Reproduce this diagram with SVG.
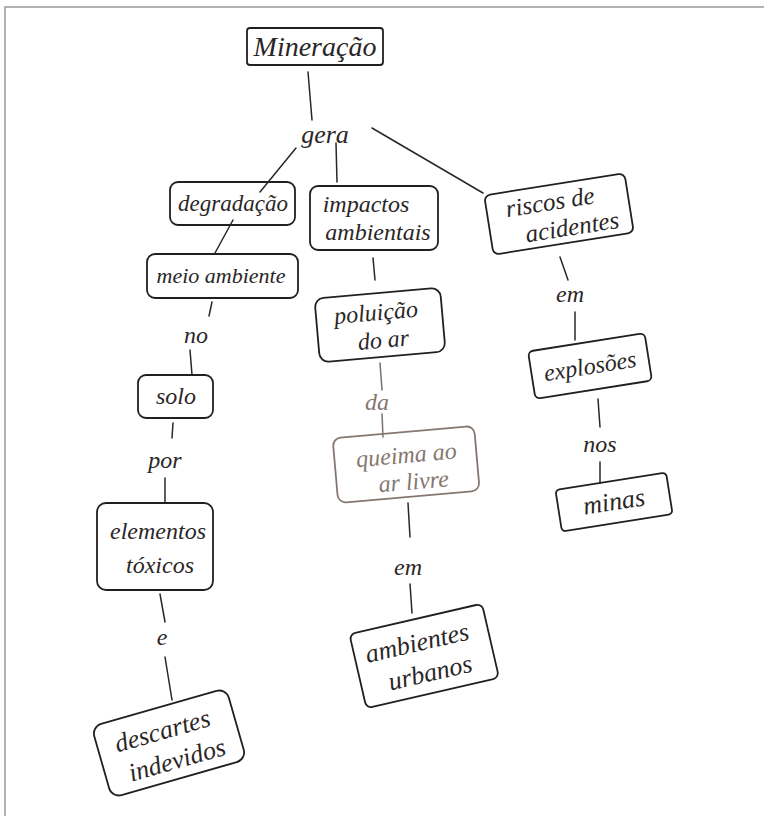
<svg xmlns="http://www.w3.org/2000/svg" width="764" height="816" viewBox="0 0 764 816">
<style>
.box{fill:none;stroke:#241f1f;stroke-width:1.8;stroke-linejoin:round}
.t{font-family:"Liberation Serif","DejaVu Serif",serif;font-style:italic;font-size:24px;fill:#2b2626;text-anchor:middle}
.lt{fill:#857670}
.lbox{stroke:#857670}
.c line{stroke:#2b2626;stroke-width:1.5;stroke-linecap:round}
.c line.l{stroke:#7d706b}
</style>
<rect width="764" height="816" fill="#ffffff"/>
<path d="M5 816 V7 H764" fill="none" stroke="#9a9a9a" stroke-width="1.5"/>
<g class="c" id="connectors">
<line x1="308" y1="72" x2="312" y2="120"/>
<line x1="296" y1="148" x2="260" y2="192"/>
<line x1="336" y1="143" x2="337" y2="182"/>
<line x1="372" y1="128" x2="483" y2="193"/>
<line x1="233" y1="220" x2="215" y2="253"/>
<line x1="373" y1="258" x2="375" y2="280"/>
<line x1="212" y1="302" x2="209" y2="316"/>
<line x1="190" y1="350" x2="192" y2="375"/>
<line x1="173" y1="423" x2="172" y2="438"/>
<line x1="165" y1="478" x2="165" y2="503"/>
<line x1="160" y1="594" x2="165" y2="622"/>
<line x1="165" y1="657" x2="172" y2="700"/>
<line class="l" x1="380" y1="363" x2="382" y2="390"/>
<line class="l" x1="382" y1="414" x2="383" y2="437"/>
<line x1="408" y1="503" x2="410" y2="537"/>
<line x1="410" y1="584" x2="412" y2="613"/>
<line x1="560" y1="257" x2="568" y2="280"/>
<line x1="575" y1="312" x2="575" y2="340"/>
<line x1="598" y1="399" x2="600" y2="427"/>
<line x1="600" y1="462" x2="600" y2="483"/>
</g>
<g id="mineracao">
<rect class="box" x="247" y="28" width="136" height="37" rx="3"/>
<text class="t" x="315" y="56" style="font-size:28px">Mineração</text>
</g>
<g id="gera"><text class="t" x="325" y="143" style="font-size:26px">gera</text></g>
<g id="degradacao">
<rect class="box" x="170" y="182" width="125" height="43" rx="8"/>
<text class="t" x="233" y="211" style="font-size:23px">degradação</text>
</g>
<g id="impactos">
<rect class="box" x="310" y="186" width="128" height="64" rx="8"/>
<text class="t" x="366" y="212">impactos</text>
<text class="t" x="378" y="240">ambientais</text>
</g>
<g id="riscos" transform="rotate(-9 559 214)">
<rect class="box" x="488" y="184" width="142" height="60" rx="6"/>
<text class="t" x="552" y="209" style="font-size:25px">riscos de</text>
<text class="t" x="570" y="237" style="font-size:25px">acidentes</text>
</g>
<g id="meio-ambiente">
<rect class="box" x="147" y="254" width="151" height="44" rx="8"/>
<text class="t" x="221" y="283" style="font-size:22px">meio ambiente</text>
</g>
<g id="no"><text class="t" x="196" y="343">no</text></g>
<g id="solo">
<rect class="box" x="138" y="375" width="75" height="43" rx="8"/>
<text class="t" x="176" y="404">solo</text>
</g>
<g id="por"><text class="t" x="165" y="468">por</text></g>
<g id="elementos">
<rect class="box" x="97" y="503" width="116" height="87" rx="9"/>
<text class="t" x="158" y="539">elementos</text>
<text class="t" x="160" y="573">tóxicos</text>
</g>
<g id="e"><text class="t" x="162" y="645">e</text></g>
<g id="descartes" transform="rotate(-16 169 743)">
<rect class="box" x="99" y="706" width="140" height="74" rx="10"/>
<text class="t" x="166" y="738" style="font-size:26px">descartes</text>
<text class="t" x="172" y="770" style="font-size:26px">indevidos</text>
</g>
<g id="poluicao" transform="rotate(-5 380 325)">
<rect class="box" x="317" y="293" width="126" height="64" rx="9"/>
<text class="t" x="377" y="320">poluição</text>
<text class="t" x="382" y="348">do ar</text>
</g>
<g id="da"><text class="t lt" x="377" y="410">da</text></g>
<g id="queima" transform="rotate(-5 405 463)">
<rect class="box lbox" x="335" y="432" width="142" height="65" rx="8"/>
<text class="t lt" x="407" y="463">queima ao</text>
<text class="t lt" x="412" y="490">ar livre</text>
</g>
<g id="em-1"><text class="t" x="408" y="575">em</text></g>
<g id="ambientes" transform="rotate(-13 424 655)">
<rect class="box" x="356" y="618" width="136" height="76" rx="6"/>
<text class="t" x="420" y="650" style="font-size:26px">ambientes</text>
<text class="t" x="426" y="682" style="font-size:26px">urbanos</text>
</g>
<g id="em-2"><text class="t" x="570" y="302">em</text></g>
<g id="explosoes" transform="rotate(-9 590 366)">
<rect class="box" x="531" y="342" width="118" height="48" rx="5"/>
<text class="t" x="590" y="374">explosões</text>
</g>
<g id="nos"><text class="t" x="600" y="452">nos</text></g>
<g id="minas" transform="rotate(-9 614 502)">
<rect class="box" x="558" y="481" width="112" height="42" rx="4"/>
<text class="t" x="614" y="510" style="font-size:26px">minas</text>
</g>
</svg>
